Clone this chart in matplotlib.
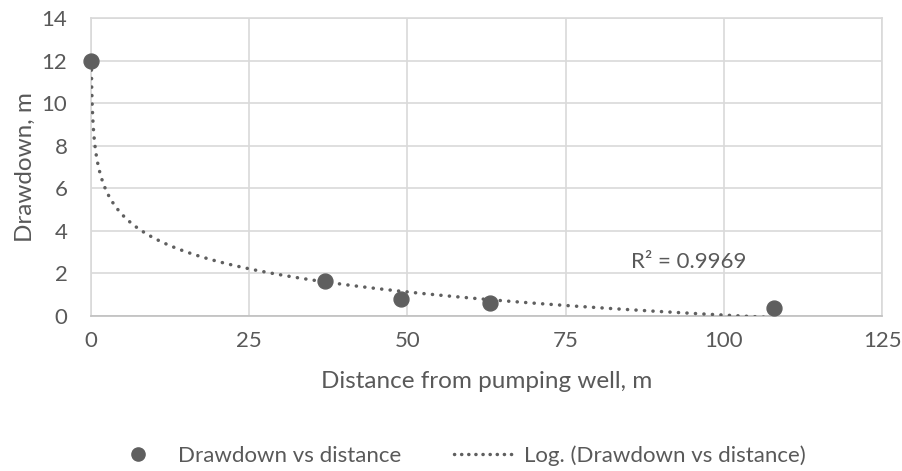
import numpy as np
import matplotlib.pyplot as plt
from matplotlib.lines import Line2D

plt.rcParams['font.family'] = ['Lato', 'DejaVu Sans']

# Drawdown observations
distance = np.array([0.05, 37, 49, 63, 108])
drawdown = np.array([12.0, 1.64, 0.80, 0.61, 0.36])
r2_text = "R² = 0.9969"

xticks = [0, 25, 50, 75, 100, 125]
yticks = [0, 2, 4, 6, 8, 10, 12, 14]

grey = '#5f5f5f'
text_col = '#595959'
grid_col = '#d9d9d9'
dots = (0, (0.05, 2.4))

# logarithmic trendline y = a ln(x) + b
a, b = np.polyfit(np.log(distance), drawdown, 1)
xs = np.geomspace(distance.min(), distance.max(), 400)
ys = a * np.log(xs) + b

fig = plt.figure(figsize=(9.03, 4.71), dpi=100)
ax = fig.add_axes([0.1008, 0.3291, 0.8760, 0.6327])

ax.plot(xs, ys, linestyle=dots, dash_capstyle='round',
        color=grey, lw=2.5, zorder=3)
ax.scatter(distance, drawdown, s=115, color=grey, zorder=4, clip_on=False)

ax.set_xlim(0, 125)
ax.set_ylim(0, 14)
ax.set_xticks(xticks)
ax.set_yticks(yticks)
ax.grid(True, color=grid_col, lw=1.2)
ax.set_axisbelow(True)
for side in ['top', 'right', 'left']:
    ax.spines[side].set_color(grid_col)
    ax.spines[side].set_linewidth(1.2)
ax.spines['bottom'].set_color('#bfbfbf')
ax.spines['bottom'].set_linewidth(1.2)
ax.tick_params(length=0, labelsize=16, labelcolor=text_col)
ax.tick_params(axis='y', pad=17)
ax.tick_params(axis='x', pad=11)

ax.set_xlabel('Distance from pumping well, m', fontsize=17.5, color=text_col, labelpad=14)
ax.set_ylabel('Drawdown, m', fontsize=17.5, color=text_col, labelpad=4)

ax.text(85.4, 2.55, r2_text, fontsize=16, color=text_col, ha='left', va='center')

handles = [
    Line2D([], [], marker='o', linestyle='none', markersize=9.5, color=grey),
    Line2D([], [], linestyle=(0, (0.05, 2.0)), dash_capstyle='round', lw=2.5, color=grey),
]
fig.legend(handles, ['Drawdown vs distance', 'Log. (Drawdown vs distance)'],
           loc='center', bbox_to_anchor=(0.506, 0.032), ncol=2, frameon=False,
           fontsize=16, labelcolor=text_col, handlelength=2.75,
           handletextpad=0.4, columnspacing=2.4)

fig.savefig('out.png', dpi=100)
